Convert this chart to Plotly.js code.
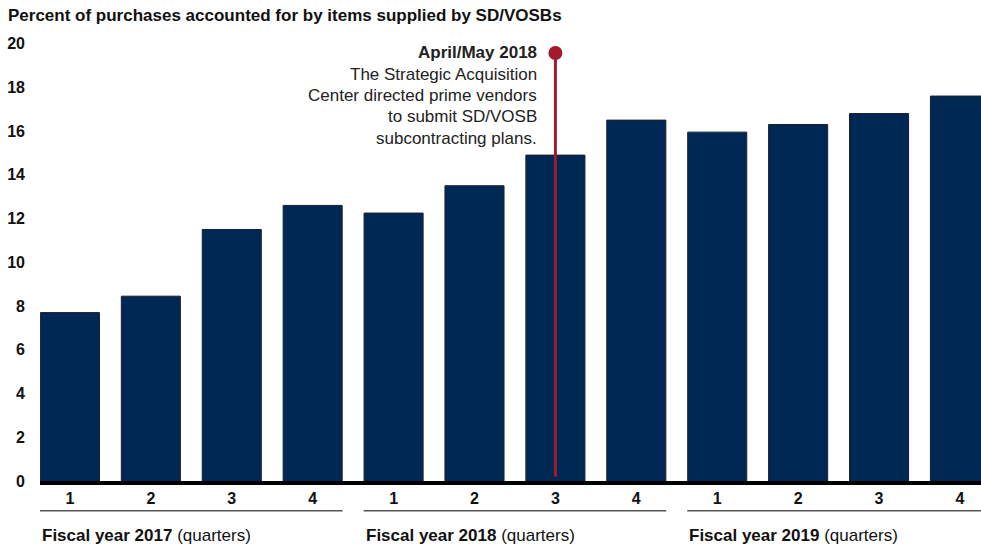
<!DOCTYPE html>
<html>
<head>
<meta charset="utf-8">
<script src="https://cdn.plot.ly/plotly-3.0.1.min.js"></script>
<style>html,body{margin:0;padding:0;background:#fff;}#chart{width:981px;height:547px;}</style>
</head>
<body>
<div id="chart"></div>
<script>
var quarters = ["1","2","3","4","1","2","3","4","1","2","3","4"];
var values = [7.7, 8.45, 11.5, 12.6, 12.25, 13.5, 14.9, 16.5, 15.95, 16.3, 16.8, 17.6];
var fiscalYears = ["2017", "2018", "2019"];
var eventIndex = 6;
var eventTop = 19.57;
var eventTitle = "April/May 2018";
var eventText = ["The Strategic Acquisition", "Center directed prime vendors", "to submit SD/VOSB", "subcontracting plans."];
var chartTitle = "Percent of purchases accounted for by items supplied by SD/VOSBs";
var yTicks = [0, 2, 4, 6, 8, 10, 12, 14, 16, 18, 20];

var xIdx = values.map(function(v, i){ return i; });
var FONT = "Liberation Sans, Arial, sans-serif";
var navy = "#002855";
var red = "#a3192f";

var traces = [
  {
    type: "bar", x: xIdx, y: values,
    marker: {color: navy, line: {color: "#1b1f2e", width: 1}},
    width: 0.73, hoverinfo: "y"
  },
  {
    type: "scatter", mode: "lines",
    x: [eventIndex, eventIndex], y: [eventTop, 0.2],
    line: {color: red, width: 3},
    hoverinfo: "skip"
  },
  {
    type: "scatter", mode: "markers",
    x: [eventIndex], y: [eventTop],
    marker: {color: red, size: 14, opacity: 1, line: {width: 0}},
    hoverinfo: "skip"
  }
];

var shapes = [];
var annotations = [];
fiscalYears.forEach(function(fy, g){
  var start = g === 0 ? -0.37 : g * 4 - 0.37;
  var end = g === 2 ? 11.4 : g * 4 + 3.37;
  shapes.push({type: "line", xref: "x", yref: "paper", x0: start, x1: end, y0: -0.066, y1: -0.066,
    line: {color: "#555", width: 1.5}});
  annotations.push({xref: "x", yref: "paper", x: start, y: -0.12, xanchor: "left", yanchor: "middle",
    showarrow: false, text: "<b>Fiscal year " + fy + "</b> (quarters)",
    font: {family: FONT, size: 17, color: "#111"}});
});

var noteLines = ["<b>" + eventTitle + "</b>"].concat(eventText);
noteLines.forEach(function(t, i){
  annotations.push({
    xref: "x", yref: "y", x: eventIndex, y: eventTop, xanchor: "right", yanchor: "middle",
    xshift: -16, yshift: -i * 21.3, showarrow: false, align: "right",
    text: t, font: {family: FONT, size: 17, color: "#222"}
  });
});

annotations.push({
  xref: "paper", yref: "paper", x: -0.034, y: 1.0, xanchor: "left", yanchor: "bottom",
  xshift: -2, yshift: 3, showarrow: false, text: "<b>" + chartTitle + "</b>",
  font: {family: FONT, size: 17, color: "#111"}
});

var layout = {
  width: 981, height: 547,
  margin: {l: 40, r: 0, t: 30, b: 66},
  paper_bgcolor: "#fff", plot_bgcolor: "#fff",
  showlegend: false,
  bargap: 0.27,
  xaxis: {
    range: [-0.37, 11.26], tickvals: xIdx, ticktext: quarters,
    showgrid: false, zeroline: false, showline: true, linecolor: "#000", linewidth: 4,
    ticks: "", ticklabelstandoff: 0,
    tickfont: {family: FONT, size: 16, color: "#111", weight: "bold"},
    fixedrange: true
  },
  yaxis: {
    range: [0, 20.62], tickvals: yTicks, ticktext: yTicks.map(String),
    showgrid: false, zeroline: false, showline: false, ticks: "",
    ticklabelstandoff: 14,
    tickfont: {family: FONT, size: 16, color: "#111", weight: "bold"},
    fixedrange: true
  },
  shapes: shapes,
  annotations: annotations
};

Plotly.newPlot("chart", traces, layout, {displayModeBar: false, staticPlot: true});
</script>
</body>
</html>
